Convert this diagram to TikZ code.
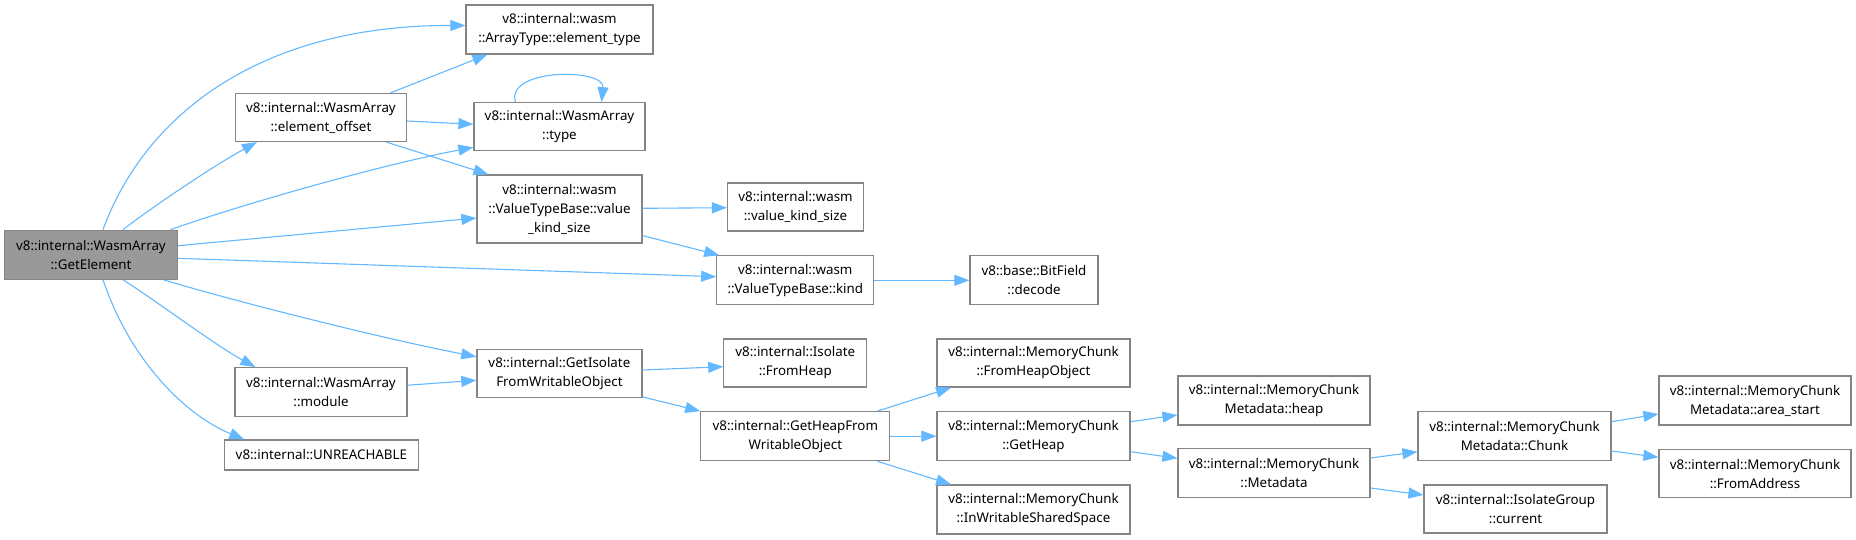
\documentclass[tikz,border=0pt]{standalone}
\usepackage{fontspec}
\setmainfont{Noto Sans}
\usetikzlibrary{arrows.meta,calc}
\definecolor{edgec}{HTML}{63B8FF}
\definecolor{bord}{HTML}{858585}
\definecolor{rootfill}{HTML}{999999}
\tikzset{
  box/.style={draw=bord, line width=1.2pt, fill=white, inner sep=0pt, align=center,
    font=\fontsize{13.35}{19}\selectfont, text=black},
  conn/.style={draw=edgec, line width=1.1pt, -{Triangle[length=15pt,width=11pt]}},
}
\begin{document}
\begin{tikzpicture}[x=1pt,y=-1pt]
\useasboundingbox (0,0) rectangle (1856,539);
% nodes
\node[box, fill=rootfill, minimum width=173, minimum height=49] (ge) at (91,254.7) {v8::internal::WasmArray\\::GetElement};
\node[box, minimum width=187, minimum height=49] (et) at (559.5,29.5) {v8::internal::wasm\\::ArrayType::element\_type};
\node[box, minimum width=171, minimum height=48] (eo) at (321,117.5) {v8::internal::WasmArray\\::element\_offset};
\node[box, minimum width=171, minimum height=48] (ty) at (559.5,126.7) {v8::internal::WasmArray\\::type};
\node[box, minimum width=165, minimum height=68] (vks) at (559.5,209) {v8::internal::wasm\\::ValueTypeBase::value\\\_kind\_size};
\node[box, minimum width=136, minimum height=48] (wvks) at (795.5,207) {v8::internal::wasm\\::value\_kind\_size};
\node[box, minimum width=157, minimum height=49] (kind) at (795.3,280.3) {v8::internal::wasm\\::ValueTypeBase::kind};
\node[box, minimum width=128, minimum height=49] (dec) at (1034,280.3) {v8::base::BitField\\::decode};
\node[box, minimum width=165, minimum height=48] (gi) at (559.4,373.3) {v8::internal::GetIsolate\\FromWritableObject};
\node[box, minimum width=172, minimum height=49] (mod) at (321,392.2) {v8::internal::WasmArray\\::module};
\node[box, minimum width=194, minimum height=30] (unr) at (321.4,455) {v8::internal::UNREACHABLE};
\node[box, minimum width=143, minimum height=48] (ifh) at (795.3,363) {v8::internal::Isolate\\::FromHeap};
\node[box, minimum width=189, minimum height=49] (ghf) at (795.3,436.2) {v8::internal::GetHeapFrom\\WritableObject};
\node[box, minimum width=193, minimum height=48] (fho) at (1033.5,363) {v8::internal::MemoryChunk\\::FromHeapObject};
\node[box, minimum width=193, minimum height=49] (gh) at (1033.5,436.2) {v8::internal::MemoryChunk\\::GetHeap};
\node[box, minimum width=193, minimum height=49] (iwss) at (1033.5,509.5) {v8::internal::MemoryChunk\\::InWritableSharedSpace};
\node[box, minimum width=192, minimum height=49] (mh) at (1274,400.5) {v8::internal::MemoryChunk\\Metadata::heap};
\node[box, minimum width=192, minimum height=49] (md) at (1274,473.3) {v8::internal::MemoryChunk\\::Metadata};
\node[box, minimum width=193, minimum height=49] (ch) at (1514.5,436.3) {v8::internal::MemoryChunk\\Metadata::Chunk};
\node[box, minimum width=183, minimum height=48] (cur) at (1515.5,509) {v8::internal::IsolateGroup\\::current};
\node[box, minimum width=192, minimum height=49] (as) at (1755,400.5) {v8::internal::MemoryChunk\\Metadata::area\_start};
\node[box, minimum width=192, minimum height=48] (fa) at (1755,473.8) {v8::internal::MemoryChunk\\::FromAddress};
% edges from GetElement
\draw[conn] ($(ge.north)+(12,0)$) .. controls (145,115) and (260,25) .. ($(et.west)+(0,-4)$);
\draw[conn] ($(ge.north)+(32,0)$) .. controls (155,205) and (215,165) .. ($(eo.south west)+(22,0)$);
\draw[conn] ($(ge.north east)+(-7.5,0)$) .. controls (240,205) and (380,165) .. ($(ty.south west)+(0,-4)$);
\draw[conn] ($(ge.east)+(0,-9)$) -- ($(vks.west)+(0,9)$);
\draw[conn] ($(ge.east)+(0,3.6)$) -- ($(kind.west)+(0,-3.6)$);
\draw[conn] ($(ge.south east)+(-14.5,0)$) .. controls (230,300) and (380,338) .. ($(gi.west)+(0,-16.6)$);
\draw[conn] ($(ge.south)+(32,0)$) .. controls (155,300) and (215,345) .. ($(mod.north west)+(21,0)$);
\draw[conn] ($(ge.south)+(12,0)$) .. controls (130,360) and (185,415) .. ($(unr.north west)+(20.5,0)$);
% element_offset
\draw[conn] ($(eo.north east)+(-16.7,0)$) -- ($(et.south west)+(22,0)$);
\draw[conn] ($(eo.east)+(0,3.5)$) -- ($(ty.west)+(0,-2.4)$);
\draw[conn] ($(eo.south east)+(-20.7,0)$) -- ($(vks.north west)+(12,0)$);
% type self loop
\draw[conn] ($(ty.north)+(-44,0)$) .. controls (505,68) and (605,68) .. ($(ty.north)+(42,0)$);
% value_kind_size
\draw[conn] ($(vks.east)+(0,-0.7)$) -- ($(wvks.west)+(0,0.7)$);
\draw[conn] ($(vks.south east)+(0,-8)$) -- ($(kind.north west)+(3,0)$);
\draw[conn] (kind.east) -- (dec.west);
% module / GetIsolate
\draw[conn] ($(mod.east)+(0,-7)$) -- ($(gi.west)+(0,7)$);
\draw[conn] ($(gi.east)+(0,-3.3)$) -- ($(ifh.west)+(0,3.7)$);
\draw[conn] ($(gi.south east)+(0,-1)$) -- (ghf.north west);
% GetHeapFrom
\draw[conn] ($(ghf.north east)+(-13,0)$) -- ($(fho.south west)+(14.7,0)$);
\draw[conn] (ghf.east) -- (gh.west);
\draw[conn] ($(ghf.south east)+(-13,0)$) -- ($(iwss.north west)+(14.7,0)$);
% GetHeap
\draw[conn] ($(gh.east)+(0,-14.5)$) -- ($(mh.west)+(0,14.5)$);
\draw[conn] ($(gh.east)+(0,15.5)$) -- ($(md.west)+(0,-15)$);
% Metadata
\draw[conn] ($(md.east)+(0,-15.3)$) -- ($(ch.west)+(0,15.4)$);
\draw[conn] ($(md.east)+(0,14.7)$) -- ($(cur.west)+(0,-14)$);
% Chunk
\draw[conn] ($(ch.east)+(0,-14.6)$) -- ($(as.west)+(0,13.5)$);
\draw[conn] ($(ch.east)+(0,14.7)$) -- ($(fa.west)+(0,-16.5)$);
\end{tikzpicture}
\end{document}
